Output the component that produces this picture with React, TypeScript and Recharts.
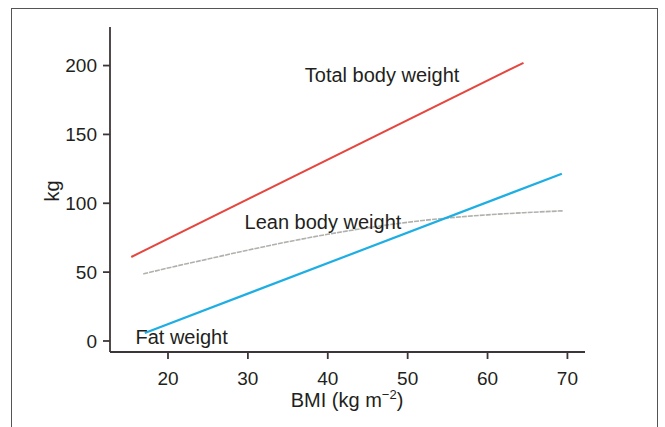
import React from 'react';
import { LineChart, Line, XAxis, YAxis, ReferenceDot } from 'recharts';

const xTicks = [20, 30, 40, 50, 60, 70];
const yTicks = [0, 50, 100, 150, 200];

const totalBmi = [15.4, 64.5];
const totalKg = [61, 202];

const leanBmi = [16.9, 20, 25, 30, 35, 40, 45, 50, 55, 60, 65, 69.4];
const leanKg = [48.7, 53, 59.5, 66, 72, 77.5, 82.2, 86.2, 89.3, 91.6, 93.3, 94.5];

const fatBmi = [17.1, 69.3];
const fatKg = [5.8, 121.5];

const labels = [
  { text: 'Total body weight', bmi: 46.8, kg: 193.5 },
  { text: 'Lean body weight', bmi: 39.4, kg: 86.5 },
  { text: 'Fat weight', bmi: 21.7, kg: 2.9 },
];

const toData = (b: number[], k: number[]) => b.map((v, i) => ({ bmi: v, kg: k[i] }));
const totalData = toData(totalBmi, totalKg);
const leanData = toData(leanBmi, leanKg);
const fatData = toData(fatBmi, fatKg);

const FONT = '"Liberation Sans", Arial, Helvetica, sans-serif';
const AXIS = '#3d3636';
const TEXT = '#231f20';

export default function App() {
  return (
    <div style={{ position: 'absolute', left: 0, top: 0, width: 665, height: 427, background: '#fff', overflow: 'hidden' }}>
      <div
        style={{
          position: 'absolute',
          left: 11,
          top: 8,
          width: 645,
          height: 440,
          borderLeft: '1.5px solid #555',
          borderTop: '1.5px solid #555',
          borderRight: '1.5px solid #555',
        }}
      />
      <div style={{ position: 'absolute', left: 0, top: 0 }}>
        <LineChart
          width={665}
          height={427}
          margin={{ top: 27, right: 80, bottom: 0, left: 0 }}
          style={{ fontFamily: FONT }}
        >
          <XAxis
            type="number"
            dataKey="bmi"
            domain={[12.74, 72.2]}
            ticks={xTicks}
            height={75}
            allowDataOverflow
            stroke={AXIS}
            strokeWidth={1.8}
            tickSize={7}
            tickMargin={13}
            tick={{ fill: TEXT, fontSize: 19, fontFamily: FONT }}
            label={{
              content: () => (
                <text x={347} y={407} textAnchor="middle" fill={TEXT} fontSize={20} fontFamily={FONT}>
                  BMI (kg m
                  <tspan dy={-8} fontSize={13}>−2</tspan>
                  <tspan dy={8}>)</tspan>
                </text>
              ),
            }}
          />
          <YAxis
            type="number"
            dataKey="kg"
            domain={[-8, 228]}
            ticks={yTicks}
            width={110}
            allowDataOverflow
            stroke={AXIS}
            strokeWidth={1.8}
            tickSize={7}
            tickMargin={6}
            tick={{ fill: TEXT, fontSize: 19, fontFamily: FONT }}
            label={{
              content: () => (
                <text
                  x={52}
                  y={191}
                  textAnchor="middle"
                  dominantBaseline="central"
                  transform="rotate(-90 52 191)"
                  fill={TEXT}
                  fontSize={20}
                  fontFamily={FONT}
                >
                  kg
                </text>
              ),
            }}
          />
          <Line
            data={leanData}
            dataKey="kg"
            type="monotone"
            stroke="#b0b0ac"
            strokeWidth={1.6}
            strokeDasharray="5 1"
            dot={false}
            activeDot={false}
            isAnimationActive={false}
          />
          <Line
            data={totalData}
            dataKey="kg"
            type="linear"
            stroke="#e5473f"
            strokeWidth={2}
            dot={false}
            activeDot={false}
            isAnimationActive={false}
          />
          <Line
            data={fatData}
            dataKey="kg"
            type="linear"
            stroke="#1eaee3"
            strokeWidth={2.2}
            dot={false}
            activeDot={false}
            isAnimationActive={false}
          />
          {labels.map((l) => (
            <ReferenceDot
              key={l.text}
              x={l.bmi}
              y={l.kg}
              r={1}
              fill="none"
              stroke="none"
              ifOverflow="visible"
              label={{ value: l.text, position: 'center', fill: TEXT, fontSize: 20, fontFamily: FONT }}
            />
          ))}
        </LineChart>
      </div>
    </div>
  );
}
